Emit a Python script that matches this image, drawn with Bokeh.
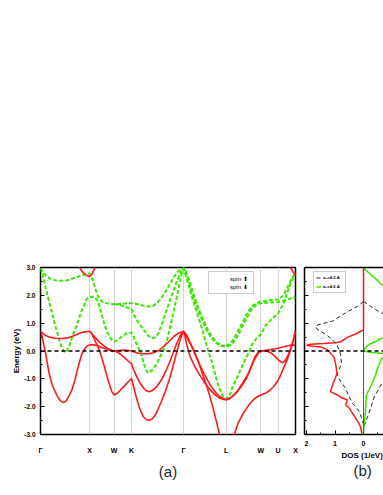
from bokeh.plotting import figure
from bokeh.models import (Range1d, FixedTicker, Span, Legend, LegendItem, LinearAxis,
                          Title, PrintfTickFormatter)
from bokeh.layouts import row
from bokeh.embed import file_html
from bokeh.resources import INLINE

FONT = "Liberation Sans"
RED = "#ff1a1a"
GREEN = "#3be600"
CYAN = "#66f2ff"

# ---------------- k-path (fcc) ----------------
K_TICKS = [0.0, 1.0, 1.5, 1.854, 2.915, 3.781, 4.488, 4.842, 5.196]
K_LABELS = ["Γ", "X", "W", "K", "Γ", "L", "W", "U", "X"]
E_TICKS = [-3, -2, -1, 0, 1, 2, 3]
E_MINOR = [-2.5, -1.5, -0.5, 0.5, 1.5, 2.5]

# ---------------- spin-up bands (red) ----------------
up_gx_top_k = [0, 0.1, 0.2, 0.3, 0.45, 0.55, 0.65, 0.75, 0.85, 1.0]
up_gx_top_e = [0.71, 0.56, 0.49, 0.46, 0.45, 0.47, 0.53, 0.60, 0.67, 0.71]

up_b1_k = [0, 0.02, 0.041, 0.07, 0.096, 0.13, 0.164, 0.2, 0.24, 0.301, 0.368, 0.42, 0.471, 0.52, 0.58, 0.64, 0.7, 0.777, 0.84, 0.9, 0.95, 1.0,
           1.064, 1.125, 1.187, 1.25, 1.35, 1.42, 1.5, 1.6, 1.7, 1.8, 1.854,
           1.92, 2.0, 2.1, 2.2, 2.3, 2.414, 2.52, 2.62, 2.72, 2.82, 2.915,
           2.94, 2.97, 3.0, 3.05, 3.15, 3.24, 3.35, 3.45, 3.55, 3.65, 3.72, 3.781,
           3.85, 3.92, 3.99, 4.09, 4.194, 4.26, 4.33, 4.4, 4.45, 4.488,
           4.56, 4.66, 4.75, 4.842, 4.95, 5.05, 5.12, 5.196]
up_b1_e = [0.71, 0.64, 0.45, 0.2, 0.0, -0.35, -0.69, -0.98, -1.22, -1.48, -1.70, -1.81, -1.85, -1.80, -1.62, -1.40, -1.05, -0.50, -0.12, 0.08, 0.18, 0.22,
           0.22, 0.21, 0.18, 0.13, 0.06, 0.02, 0.0, 0.02, 0.03, 0.02, 0.0,
           -0.04, -0.08, -0.10, -0.10, -0.06, 0.02, 0.18, 0.35, 0.53, 0.65, 0.71,
           0.55, 0.30, 0.10, -0.20, -0.58, -0.85, -1.15, -1.38, -1.56, -1.69, -1.74, -1.75,
           -1.72, -1.62, -1.50, -1.28, -1.00, -0.72, -0.42, -0.18, -0.05, 0.0,
           0.02, 0.04, 0.07, 0.10, 0.15, 0.19, 0.21, 0.22]

up_b2_k = [1.0, 1.06, 1.12, 1.2, 1.28, 1.36, 1.43, 1.5,
           1.56, 1.62, 1.7, 1.78, 1.854,
           1.9, 1.96, 2.03, 2.1, 2.15, 2.21, 2.28, 2.36, 2.455, 2.54, 2.62, 2.7, 2.77, 2.84, 2.88, 2.915,
           2.96, 3.02, 3.07, 3.15, 3.24, 3.33, 3.42, 3.5, 3.58, 3.68, 3.781,
           3.86, 3.94, 4.02, 4.12, 4.23, 4.3, 4.36, 4.42, 4.488,
           4.56, 4.64, 4.72, 4.8, 4.87, 4.93, 4.98, 5.04, 5.1, 5.15, 5.196]
up_b2_e = [0.71, 0.60, 0.47, 0.32, 0.20, 0.10, 0.04, 0.0,
           -0.04, -0.10, -0.22, -0.35, -0.46,
           -0.68, -0.92, -1.15, -1.33, -1.42, -1.46, -1.42, -1.30, -1.06, -0.78, -0.45, -0.08, 0.25, 0.52, 0.64, 0.71,
           0.62, 0.42, 0.20, -0.12, -0.48, -0.80, -1.10, -1.33, -1.51, -1.67, -1.75,
           -1.70, -1.58, -1.42, -1.15, -0.82, -0.52, -0.25, -0.08, 0.0,
           0.0, -0.02, -0.10, -0.24, -0.36, -0.42, -0.36, -0.16, 0.10, 0.40, 0.71]

up_b3_k = [1.0, 1.05, 1.1, 1.15, 1.2, 1.25, 1.3, 1.35, 1.4, 1.45, 1.5,
           1.56, 1.62, 1.7, 1.78, 1.854,
           1.9, 1.95, 2.0, 2.05, 2.1, 2.16, 2.21, 2.27, 2.35, 2.455, 2.55, 2.62, 2.7, 2.78, 2.85, 2.89, 2.915,
           2.95, 3.0, 3.05, 3.1, 3.2, 3.3, 3.376, 3.45, 3.52, 3.58, 3.648, 3.7, 3.781,
           3.87, 3.948, 4.03, 4.13, 4.23, 4.3, 4.4, 4.488,
           4.58, 4.68, 4.77, 4.842, 4.9, 4.96, 5.03, 5.1, 5.15, 5.196]
up_b3_e = [0.71, 0.60, 0.42, 0.22, 0.02, -0.25, -0.55, -0.88, -1.18, -1.45, -1.58,
           -1.52, -1.42, -1.27, -1.12, -0.99,
           -1.30, -1.65, -1.95, -2.20, -2.37, -2.47, -2.49, -2.45, -2.27, -1.85, -1.42, -1.05, -0.55, -0.02, 0.42, 0.62, 0.71,
           0.60, 0.42, 0.28, 0.12, -0.30, -0.82, -1.20, -1.62, -2.08, -2.50, -3.00, -3.35, -3.60,
           -3.30, -3.00, -2.58, -2.24, -1.98, -1.82, -1.66, -1.58,
           -1.52, -1.40, -1.24, -1.05, -0.84, -0.58, -0.30, 0.05, 0.35, 0.71]

up_hi_l_k = [0.777, 0.85, 0.92, 1.0, 1.05, 1.1, 1.12]
up_hi_l_e = [3.05, 2.85, 2.73, 2.68, 2.76, 2.95, 3.05]
up_hi_r_k = [5.08, 5.13, 5.196]
up_hi_r_e = [3.05, 2.88, 2.72]

# ---------------- spin-down bands (green) ----------------
dn_b1_k = [0, 0.1, 0.2, 0.3, 0.409, 0.53, 0.65, 0.777, 0.88, 1.0,
           1.064, 1.125, 1.187, 1.25, 1.35, 1.42, 1.5,
           1.616, 1.739, 1.854,
           1.984, 2.128, 2.209, 2.291, 2.373, 2.455, 2.537, 2.619, 2.7, 2.782, 2.86, 2.915,
           2.95, 3.0, 3.07, 3.17, 3.27, 3.37, 3.48, 3.58, 3.68, 3.781,
           3.888, 3.99, 4.092, 4.194, 4.296, 4.398, 4.488, 4.58, 4.664, 4.75, 4.842, 4.95, 5.03, 5.114, 5.196]
dn_b1_e = [2.98, 2.72, 2.60, 2.54, 2.52, 2.53, 2.60, 2.68, 2.75, 2.79,
           2.55, 2.20, 1.90, 1.78, 1.72, 1.69, 1.68,
           1.69, 1.71, 1.72,
           1.68, 1.62, 1.60, 1.62, 1.72, 1.88, 2.10, 2.35, 2.60, 2.82, 2.94, 2.98,
           2.90, 2.65, 2.20, 1.65, 1.20, 0.80, 0.48, 0.28, 0.18, 0.15,
           0.30, 0.60, 0.95, 1.30, 1.58, 1.72, 1.78, 1.80, 1.82, 1.84, 1.85, 2.00, 2.28, 2.58, 2.80]

dn_b2_k = [0, 0.04, 0.096, 0.164, 0.23, 0.28, 0.333, 0.38, 0.423, 0.471, 0.5, 0.53, 0.58, 0.64, 0.69, 0.743, 0.79, 0.845, 0.9, 0.947, 1.0,
           1.064, 1.11, 1.16, 1.2, 1.25, 1.3, 1.35, 1.41, 1.46, 1.5,
           1.555, 1.616, 1.678, 1.739, 1.8, 1.854,
           1.89, 1.923, 1.984, 2.046, 2.1, 2.15, 2.19, 2.24, 2.3, 2.37, 2.45, 2.52, 2.58, 2.64, 2.7, 2.76, 2.82, 2.87, 2.915,
           2.96, 3.02, 3.1, 3.2, 3.3, 3.4, 3.5, 3.6, 3.7, 3.781,
           3.888, 3.99, 4.092, 4.194, 4.296, 4.398, 4.488, 4.58, 4.664, 4.75, 4.842, 4.95, 5.03, 5.114, 5.196]
dn_b2_e = [2.98, 2.75, 2.35, 1.85, 1.41, 1.05, 0.71, 0.42, 0.18, 0.0, -0.05, -0.02, 0.15, 0.47, 0.70, 0.94, 1.20, 1.47, 1.70, 1.88, 1.94,
           1.95, 1.93, 1.80, 1.60, 1.30, 0.98, 0.72, 0.50, 0.38, 0.34,
           0.38, 0.46, 0.55, 0.62, 0.66, 0.66,
           0.55, 0.38, 0.15, -0.08, -0.42, -0.68, -0.78, -0.75, -0.63, -0.45, -0.16, 0.08, 0.40, 0.85, 1.30, 1.80, 2.30, 2.70, 2.98,
           2.88, 2.60, 2.15, 1.62, 1.18, 0.80, 0.50, 0.30, 0.20, 0.17,
           0.22, 0.45, 0.80, 1.15, 1.48, 1.66, 1.72, 1.73, 1.74, 1.75, 1.76, 1.80, 1.85, 1.90, 1.94]

dn_b3_k = [1.5, 1.56, 1.616, 1.68, 1.739, 1.8, 1.854,
           1.923, 1.984, 2.046, 2.128, 2.209, 2.27, 2.33, 2.4, 2.455, 2.537, 2.619, 2.7, 2.78, 2.864, 2.915,
           2.96, 3.02, 3.1, 3.2, 3.3, 3.376, 3.44, 3.51, 3.56, 3.61, 3.67, 3.72, 3.781,
           3.85, 3.92, 4.02, 4.13, 4.23, 4.3, 4.4, 4.488, 4.583, 4.685, 4.76, 4.842, 4.95, 5.03, 5.114, 5.196]
dn_b3_e = [1.68, 1.67, 1.65, 1.62, 1.58, 1.54, 1.50,
           1.25, 1.05, 0.90, 0.70, 0.53, 0.46, 0.48, 0.62, 0.88, 1.30, 1.72, 2.12, 2.52, 2.85, 2.98,
           2.70, 2.35, 1.85, 1.30, 0.75, 0.25, -0.12, -0.50, -0.85, -1.16, -1.45, -1.63, -1.72,
           -1.62, -1.26, -0.90, -0.46, -0.10, 0.20, 0.45, 0.60, 0.90, 1.10, 1.22, 1.35, 1.70, 2.10, 2.50, 2.80]

# ---------------- DOS (panel b) ----------------
dos_up_e = [3.0, 0.75, 0.7, 0.6, 0.5, 0.4, 0.33, 0.3, 0.27, 0.24, 0.21, 0.18, 0.14, 0.08, 0.0, -0.22, -0.46, -0.8, -1.0, -1.2,
            -1.46, -1.52, -1.6, -1.69, -1.75, -1.85, -1.93, -2.05, -2.22, -2.4, -2.6, -2.75, -3.0]
dos_up = [0.0, 0.0, 0.12, 0.3, 0.55, 0.7, 0.8, 1.0, 1.4, 1.85, 2.0, 1.85, 1.5, 1.32, 1.22, 1.04, 0.98, 0.93, 1.0, 1.08,
          1.16, 1.04, 0.88, 0.75, 0.57, 0.6, 0.63, 0.5, 0.4, 0.28, 0.16, 0.1, 0.05]

dos_dn_top_e = [3.0, 2.9, 2.8, 2.7, 2.6, 2.5, 2.4, 2.3]
dos_dn_top = [0.0, 0.08, 0.2, 0.3, 0.42, 0.52, 0.62, 0.78]
dos_dn_mid_e = [0.5, 0.42, 0.34, 0.25, 0.19, 0.1, 0.03, 0.0, -0.05, -0.1]
dos_dn_mid = [0.8, 0.54, 0.42, 0.22, 0.13, 0.05, 0.0, 0.0, 0.3, 0.8]
dos_dn_low_e = [-0.2, -0.28, -0.52, -0.64, -0.87, -1.16, -1.4, -1.58, -2.16, -2.81, -3.0]
dos_dn_low = [0.8, 0.63, 0.54, 0.48, 0.42, 0.3, 0.19, 0.1, 0.07, 0.0, 0.0]

dos45_up_e = [1.78, 1.6, 1.37, 1.07, 0.95, 0.89, 0.78, 0.6, 0.42, 0.19, -0.1, -0.46, -0.81, -0.99, -1.34, -1.64, -1.87, -1.99, -2.16, -2.4, -2.64]
dos45_up = [0.0, 0.22, 0.63, 1.1, 1.57, 1.68, 1.62, 1.33, 1.1, 0.92, 0.81, 0.77, 0.92, 0.87, 0.63, 0.51, 0.4, 0.28, 0.16, 0.07, 0.0]
dos45_dn_top_e = [1.78, 1.6, 1.42, 1.3]
dos45_dn_top = [0.0, 0.25, 0.54, 0.78]
dos45_dn_low_e = [-1.0, -1.1, -1.46, -1.69, -2.05, -2.4, -2.75]
dos45_dn_low = [0.8, 0.68, 0.48, 0.36, 0.25, 0.13, 0.0]

DOS_TICKS = [2, 1, 0, -1, -2]
DOS_MINOR = [1.5, 0.5, -0.5, -1.5]

# ================= panel (a) =================
pa = figure(width=299, height=482, x_range=Range1d(0, K_TICKS[-1]), y_range=Range1d(-3, 3),
            output_backend="svg", toolbar_location=None,
            min_border_left=40, min_border_right=4, min_border_top=267, min_border_bottom=45)
pa.outline_line_color = "black"
pa.outline_line_width = 1.5
pa.background_fill_color = "white"
pa.border_fill_color = "white"

pa.xgrid.ticker = FixedTicker(ticks=K_TICKS[1:-1])
pa.xgrid.grid_line_color = "#d4d4d4"
pa.xgrid.grid_line_width = 1
pa.ygrid.grid_line_color = None

xa = pa.xaxis[0]
xa.ticker = FixedTicker(ticks=K_TICKS)
xa.major_label_overrides = {k: lab for k, lab in zip(K_TICKS, K_LABELS)}
xa.major_tick_line_color = None
xa.minor_tick_line_color = None
xa.axis_line_color = None
xa.major_label_text_font = FONT
xa.major_label_text_font_style = "bold"
xa.major_label_text_font_size = "7px"
xa.major_label_text_color = "black"
xa.major_label_standoff = 6
xa.axis_label = "(a)"
xa.axis_label_text_font = FONT
xa.axis_label_text_font_style = "normal"
xa.axis_label_text_font_size = "15px"
xa.axis_label_text_color = "#222222"
xa.axis_label_standoff = 6

ya = pa.yaxis[0]
ya.ticker = FixedTicker(ticks=E_TICKS, minor_ticks=E_MINOR)
ya.formatter = PrintfTickFormatter(format="%.1f")
ya.major_tick_in = 4
ya.major_tick_out = 0
ya.minor_tick_in = 2
ya.minor_tick_out = 0
ya.axis_line_color = None
ya.major_label_text_font = FONT
ya.major_label_text_font_style = "bold"
ya.major_label_text_font_size = "6.5px"
ya.major_label_text_color = "black"
ya.major_label_standoff = 5
ya.axis_label = "Energy (eV)"
ya.axis_label_text_font = FONT
ya.axis_label_text_font_style = "bold"
ya.axis_label_text_font_size = "8px"
ya.axis_label_text_color = "black"
ya.axis_label_standoff = 0

# spin-down (green dashed)
gkw = dict(line_color=GREEN, line_width=2, line_dash="4 2")
pa.line(dn_b1_k, dn_b1_e, **gkw)
pa.line(dn_b2_k, dn_b2_e, **gkw)
pa.line(dn_b3_k, dn_b3_e, **gkw)

# spin-up (red solid)
rkw = dict(line_color=RED, line_width=1.6)
pa.line(up_b1_k, up_b1_e, **rkw)
pa.line(up_gx_top_k, up_gx_top_e, **rkw)
pa.line(up_b2_k, up_b2_e, **rkw)
pa.line(up_b3_k, up_b3_e, **rkw)
pa.line(up_hi_l_k, up_hi_l_e, **rkw)
pa.line(up_hi_r_k, up_hi_r_e, **rkw)

pa.add_layout(Span(location=0, dimension="width", line_color="black", line_width=1.5, line_dash="4 3"))

r_leg_up = pa.line(x=[], y=[], line_color=RED, line_width=1.5)
r_leg_dn = pa.line(x=[], y=[], line_color=CYAN, line_width=1.5, line_dash="4 3")
leg_a = Legend(items=[LegendItem(label="spin ⬆", renderers=[r_leg_up]),
                      LegendItem(label="spin ⬇", renderers=[r_leg_dn])],
               location=(168, 140), glyph_width=15, glyph_height=7, label_height=7,
               label_text_font=FONT, label_text_font_size="6px", label_text_color="black",
               label_standoff=3, padding=3, spacing=1, margin=0,
               border_line_color="#999999", border_line_width=1, background_fill_alpha=1)
pa.add_layout(leg_a)

# ================= panel (b) =================
pb = figure(width=84, height=482, x_range=Range1d(2.07, -0.70), y_range=Range1d(-3, 3),
            output_backend="svg", toolbar_location=None,
            min_border_left=5, min_border_right=0, min_border_top=267, min_border_bottom=45)
pb.outline_line_color = None
pb.background_fill_color = "white"
pb.border_fill_color = "white"
pb.xgrid.grid_line_color = None
pb.ygrid.grid_line_color = None

xb = pb.xaxis[0]
xb.ticker = FixedTicker(ticks=DOS_TICKS, minor_ticks=DOS_MINOR)
xb.major_label_overrides = {t: str(abs(t)) for t in DOS_TICKS}
xb.major_tick_in = 4
xb.major_tick_out = 0
xb.minor_tick_in = 2
xb.minor_tick_out = 0
xb.axis_line_width = 1.5
xb.axis_line_color = "black"
xb.major_tick_line_color = "black"
xb.minor_tick_line_color = "black"
xb.major_label_text_font = FONT
xb.major_label_text_font_style = "bold"
xb.major_label_text_font_size = "7px"
xb.major_label_text_color = "black"
xb.major_label_standoff = 6

yb = pb.yaxis[0]
yb.ticker = FixedTicker(ticks=E_TICKS, minor_ticks=E_MINOR)
yb.major_label_overrides = {t: "" for t in E_TICKS}
yb.major_tick_in = 4
yb.major_tick_out = 0
yb.minor_tick_in = 2
yb.minor_tick_out = 0
yb.axis_line_width = 1.5
yb.axis_line_color = "black"
yb.major_label_standoff = 0

top_b = LinearAxis(ticker=FixedTicker(ticks=[]), major_tick_line_color=None,
                   minor_tick_line_color=None, axis_line_width=1.5, axis_line_color="black",
                   major_label_standoff=0)
pb.add_layout(top_b, "above")

pb.add_layout(Span(location=0, dimension="height", line_color="#555555", line_width=1))
pb.add_layout(Span(location=0, dimension="width", line_color="black", line_width=1.5, line_dash="4 3"))

k45 = dict(line_color="#222222", line_width=1, line_dash="4 3")
b45 = pb.line(dos45_up, dos45_up_e, **k45)
pb.line([-v for v in dos45_dn_top], dos45_dn_top_e, **k45)
pb.line([-v for v in dos45_dn_low], dos45_dn_low_e, **k45)

pb.line(dos_up, dos_up_e, line_color=RED, line_width=1.5)
gd = pb.line([-v for v in dos_dn_top], dos_dn_top_e, line_color=GREEN, line_width=1.5)
pb.line([-v for v in dos_dn_mid], dos_dn_mid_e, line_color=GREEN, line_width=1.5)
pb.line([-v for v in dos_dn_low], dos_dn_low_e, line_color=GREEN, line_width=1.5)

leg_b = Legend(items=[LegendItem(label="a₀=4.5 Å", renderers=[b45]),
                      LegendItem(label="a₀=4.6 Å", renderers=[gd])],
               location=(9, 141), glyph_width=5, glyph_height=7, label_height=7,
               label_text_font=FONT, label_text_font_size="4.2px", label_text_font_style="bold",
               label_text_color="black",
               label_standoff=2, padding=2, spacing=2, margin=0,
               border_line_color="#999999", border_line_width=1, background_fill_alpha=1)
pb.add_layout(leg_b)

pb.add_layout(Title(text="DOS (1/eV)", align="left", offset=37, standoff=0,
                    text_font=FONT, text_font_style="bold", text_font_size="8px",
                    text_color="black"), "below")
pb.add_layout(Title(text="(b)", align="left", offset=49, standoff=0,
                    text_font=FONT, text_font_style="normal", text_font_size="15px",
                    text_color="#222222"), "below")

layout = row(pa, pb)
open("out.html", "w").write(file_html(layout, INLINE))
